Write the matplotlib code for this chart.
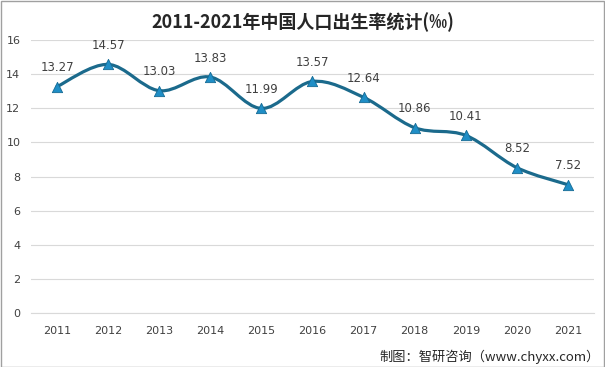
import numpy as np
import matplotlib
matplotlib.use('Agg')
import matplotlib.pyplot as plt
from matplotlib.path import Path
from matplotlib.patches import PathPatch, Rectangle

plt.rcParams['font.family'] = ['Noto Sans CJK SC', 'DejaVu Sans']

years = ['2011', '2012', '2013', '2014', '2015', '2016', '2017', '2018', '2019', '2020', '2021']
birth_rate = [13.27, 14.57, 13.03, 13.83, 11.99, 13.57, 12.64, 10.86, 10.41, 8.52, 7.52]
y_ticks = [0, 2, 4, 6, 8, 10, 12, 14, 16]

line_color = '#1b6a8c'
marker_color = '#1f8ec6'
text_color = '#404040'

fig = plt.figure(figsize=(6.05, 3.67), dpi=100)
ax = fig.add_axes([0.052, 0.147, 0.929, 0.744])

x = np.arange(len(years))
y = np.array(birth_rate)

# smoothed line (Excel-like Catmull-Rom through the points)
verts = [(x[0], y[0])]
codes = [Path.MOVETO]
t = 1.0 / 6.0
for i in range(len(x) - 1):
    p0 = (x[i - 1], y[i - 1]) if i > 0 else (x[i], y[i])
    p1 = (x[i], y[i])
    p2 = (x[i + 1], y[i + 1])
    p3 = (x[i + 2], y[i + 2]) if i + 2 < len(x) else (x[i + 1], y[i + 1])
    c1 = (p1[0] + (p2[0] - p0[0]) * t, p1[1] + (p2[1] - p0[1]) * t)
    c2 = (p2[0] - (p3[0] - p1[0]) * t, p2[1] - (p3[1] - p1[1]) * t)
    verts += [c1, c2, p2]
    codes += [Path.CURVE4] * 3
ax.add_patch(PathPatch(Path(verts, codes), facecolor='none', edgecolor=line_color,
                       linewidth=2.3, capstyle='round', zorder=3))

ax.scatter(x, y, marker='^', s=55, color=marker_color, edgecolors='#156a94',
           linewidths=0.6, zorder=4)

for xi, yi in zip(x, y):
    ax.annotate(f'{yi:.2f}', (xi, yi), xytext=(0, 9), textcoords='offset points',
                ha='center', va='bottom', fontsize=8.5, color=text_color,
                family=['DejaVu Sans'])

ax.set_xlim(-0.5, len(years) - 0.5)
ax.set_ylim(0, 16)
ax.set_yticks(y_ticks)
ax.set_xticks(x)
ax.set_xticklabels(years)
ax.yaxis.grid(True, color='#d9d9d9', linewidth=0.8)
ax.set_axisbelow(True)
for s in ['top', 'right', 'left']:
    ax.spines[s].set_visible(False)
ax.spines['bottom'].set_color('#d9d9d9')
ax.tick_params(axis='both', length=0, labelsize=8, colors=text_color)
ax.tick_params(axis='y', pad=8)
ax.tick_params(axis='x', pad=9)
for lbl in ax.get_xticklabels() + ax.get_yticklabels():
    lbl.set_family(['DejaVu Sans'])

fig.text(0.5, 0.94, '2011-2021年中国人口出生率统计(‰)', ha='center', va='center',
         fontsize=13, fontweight='bold', color='#262626')
fig.text(0.992, 0.028, '制图：智研咨询（www.chyxx.com）', ha='right', va='center',
         fontsize=9.5, color='#262626')

fig.patches.append(Rectangle((0.001, 0.001), 0.997, 0.996, transform=fig.transFigure,
                             fill=False, edgecolor='#a0a0a0', linewidth=1.0))

fig.savefig('out.png', dpi=100)
